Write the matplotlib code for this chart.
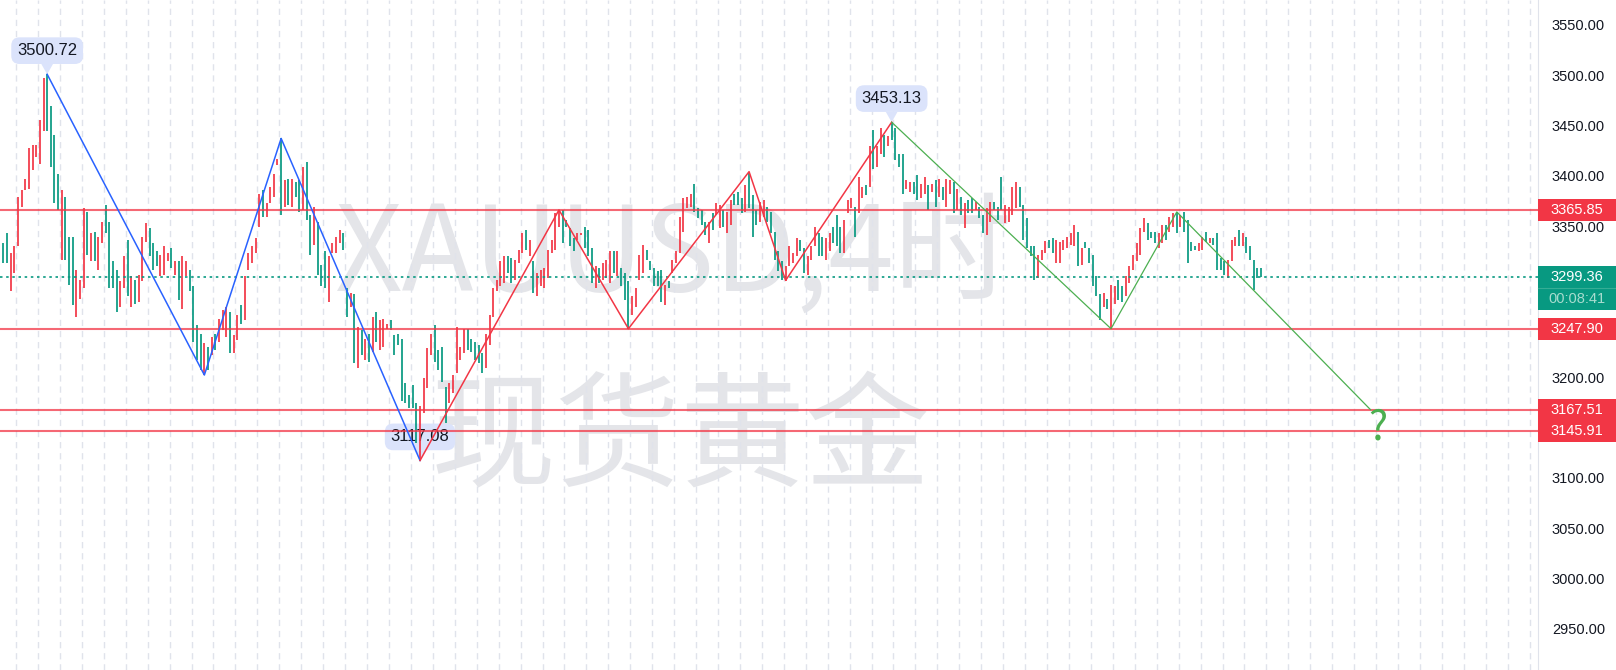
import numpy as np
import matplotlib
matplotlib.use('Agg')
import matplotlib.pyplot as plt
import matplotlib.transforms as mtransforms
from matplotlib.patches import Rectangle

plt.rcParams['font.family'] = ['Liberation Sans', 'Noto Sans CJK SC', 'DejaVu Sans']

# 4小时K线 (红涨绿跌)
bar_open = [
    3333, 3343, 3285, 3303, 3330, 3369, 3386, 3387, 3406, 3419,
    3412, 3444, 3500.72, 3469, 3440, 3402, 3316, 3379, 3339, 3339,
    3260, 3278, 3288, 3364, 3315, 3344, 3306, 3333, 3371, 3354,
    3315, 3306, 3270, 3288, 3336, 3270, 3296, 3275, 3295, 3334,
    3348, 3333, 3325, 3300, 3301, 3315, 3328, 3301, 3315, 3268,
    3300, 3306, 3290, 3252, 3243, 3202, 3230, 3222, 3243, 3235,
    3247, 3240, 3265, 3224, 3237, 3272, 3257, 3306, 3313, 3323,
    3349, 3386, 3359, 3373, 3379, 3411, 3437, 3369, 3397, 3369,
    3394, 3396, 3366, 3414, 3361, 3331, 3354, 3311, 3325, 3275,
    3323, 3323, 3333, 3343, 3288, 3270, 3282, 3209, 3247, 3217,
    3243, 3225, 3265, 3227, 3230, 3248, 3257, 3242, 3243, 3238,
    3194, 3182, 3192, 3174, 3117.08, 3164, 3189, 3222, 3252, 3227,
    3230, 3190, 3174, 3184, 3204, 3217, 3224, 3248, 3238, 3235,
    3232, 3224, 3209, 3232, 3260, 3285, 3290, 3293, 3320, 3318,
    3296, 3313, 3323, 3346, 3320, 3315, 3280, 3290, 3288, 3298,
    3323, 3326, 3349, 3366, 3356, 3348, 3338, 3336, 3341, 3349,
    3346, 3328, 3288, 3308, 3296, 3298, 3293, 3325, 3300, 3308,
    3303, 3295, 3262, 3270, 3296, 3303, 3326, 3315, 3308, 3305,
    3306, 3272, 3295, 3303, 3313, 3323, 3344, 3368, 3369, 3392,
    3368, 3366, 3354, 3333, 3363, 3361, 3348, 3366, 3343, 3351,
    3382, 3384, 3378, 3364, 3404, 3381, 3366, 3354, 3359, 3369,
    3364, 3344, 3325, 3315, 3295, 3310, 3313, 3320, 3336, 3328,
    3301, 3316, 3330, 3343, 3339, 3316, 3325, 3349, 3361, 3349,
    3323, 3363, 3368, 3369, 3363, 3378, 3391, 3389, 3445, 3409,
    3422, 3440, 3429, 3453.13, 3447, 3422, 3422, 3387, 3384, 3394,
    3401, 3378, 3382, 3391, 3384, 3396, 3379, 3389, 3369, 3382,
    3394, 3366, 3379, 3348, 3376, 3378, 3366, 3369, 3361, 3341,
    3354, 3374, 3369, 3399, 3353, 3354, 3361, 3368, 3389, 3371,
    3358, 3330, 3330, 3298, 3316, 3323, 3336, 3338, 3313, 3313,
    3326, 3328, 3331, 3330, 3344, 3311, 3334, 3328, 3321, 3300,
    3282, 3270, 3278, 3248, 3273, 3296, 3290, 3280, 3293, 3306,
    3315, 3321, 3344, 3353, 3344, 3344, 3328, 3333, 3351, 3344,
    3349, 3364, 3349, 3364, 3356, 3334, 3330, 3325, 3326, 3344,
    3333, 3338, 3343, 3318, 3315, 3298, 3315, 3330, 3346, 3330,
    3339, 3330, 3316, 3308, 3308,
]
bar_close = [
    3313, 3313, 3323, 3330, 3379, 3386, 3397, 3427, 3430, 3430,
    3455, 3497, 3444, 3409, 3373, 3366, 3386, 3316, 3291, 3272,
    3306, 3296, 3368, 3321, 3343, 3315, 3339, 3354, 3343, 3288,
    3288, 3265, 3295, 3320, 3280, 3300, 3273, 3301, 3339, 3353,
    3320, 3306, 3310, 3321, 3330, 3323, 3308, 3315, 3277, 3320,
    3315, 3285, 3235, 3217, 3207, 3234, 3207, 3240, 3227, 3258,
    3267, 3270, 3224, 3242, 3262, 3253, 3300, 3323, 3330, 3338,
    3382, 3359, 3373, 3389, 3402, 3417, 3361, 3396, 3371, 3397,
    3379, 3364, 3409, 3356, 3321, 3369, 3301, 3290, 3288, 3320,
    3333, 3339, 3346, 3326, 3260, 3283, 3214, 3250, 3222, 3238,
    3215, 3260, 3235, 3257, 3258, 3253, 3247, 3222, 3232, 3176,
    3174, 3169, 3169, 3134, 3171, 3199, 3229, 3243, 3215, 3207,
    3195, 3154, 3194, 3202, 3250, 3230, 3248, 3227, 3225, 3217,
    3214, 3204, 3243, 3262, 3288, 3296, 3315, 3320, 3303, 3293,
    3316, 3326, 3343, 3326, 3336, 3283, 3303, 3306, 3308, 3326,
    3336, 3363, 3366, 3333, 3349, 3330, 3325, 3343, 3343, 3328,
    3320, 3293, 3310, 3293, 3313, 3316, 3325, 3303, 3325, 3290,
    3277, 3248, 3280, 3288, 3321, 3331, 3316, 3306, 3290, 3290,
    3275, 3291, 3288, 3316, 3325, 3359, 3378, 3379, 3382, 3364,
    3358, 3351, 3341, 3354, 3346, 3373, 3371, 3349, 3364, 3376,
    3371, 3371, 3363, 3391, 3368, 3339, 3351, 3374, 3376, 3354,
    3343, 3316, 3305, 3296, 3310, 3330, 3323, 3338, 3325, 3303,
    3320, 3330, 3349, 3320, 3320, 3338, 3343, 3333, 3330, 3323,
    3356, 3376, 3378, 3339, 3399, 3389, 3381, 3429, 3407, 3429,
    3447, 3419, 3439, 3435, 3416, 3409, 3382, 3396, 3394, 3382,
    3376, 3392, 3399, 3366, 3392, 3369, 3397, 3376, 3397, 3396,
    3363, 3387, 3361, 3373, 3363, 3363, 3374, 3358, 3343, 3368,
    3374, 3366, 3356, 3366, 3371, 3369, 3389, 3394, 3369, 3336,
    3328, 3320, 3296, 3321, 3326, 3335, 3328, 3323, 3336, 3334,
    3336, 3339, 3343, 3351, 3310, 3328, 3328, 3313, 3290, 3280,
    3257, 3283, 3268, 3291, 3290, 3277, 3275, 3300, 3310, 3321,
    3333, 3348, 3358, 3336, 3338, 3333, 3343, 3351, 3336, 3359,
    3363, 3343, 3361, 3344, 3313, 3325, 3326, 3333, 3339, 3334,
    3338, 3331, 3306, 3306, 3301, 3316, 3336, 3339, 3330, 3343,
    3323, 3316, 3286, 3298, 3299.36,
]

# 波段折线 (K线序号, 价格)
blue_idx = [12, 55, 76, 114]
blue_px = [3500.72, 3202, 3437, 3117.08]
red_idx = [114, 152, 171, 204, 214, 243]
red_px = [3117.08, 3366, 3248, 3404, 3296, 3453.13]
green_idx = [243, 303, 321, 374]
green_px = [3453.13, 3248, 3364, 3167.51]

levels = [3365.85, 3247.90, 3167.51, 3145.91]
last_price = 3299.36
countdown = '00:08:41'
pivot_idx = [12, 243, 114]
pivot_px = [3500.72, 3453.13, 3117.08]
yticks = [2950, 3000, 3050, 3100, 3200, 3350, 3400, 3450, 3500, 3550]

UP = '#f23645'
DOWN = '#089981'
TXT = '#131722'

fig = plt.figure(figsize=(16.16, 6.70), dpi=100)
ax = fig.add_axes([0, 0, 1538 / 1616, 1])
ax.set_xlim(-0.9, 419.8)
ax.set_ylim(2909.0, 3574.5)

# 水印
wm = '#e4e5e9'
ax.text(0.438, 0.566, 'XAUUSD,4时', transform=ax.transAxes, ha='center', va='baseline',
        fontsize=85, color=wm, family=['Noto Sans CJK SC'], zorder=0)
ax.text(0.4425, 0.288, '现货黄金', transform=ax.transAxes, ha='center', va='baseline',
        fontsize=90, color=wm, family=['Noto Sans CJK SC'], zorder=0)

# 竖向虚线网格
for gx in np.arange(3.5, 420, 6):
    ax.axvline(gx, color='#e0e3eb', lw=1, ls=(0, (4.5, 3.5)), zorder=0.5)

# K线
o = np.array(bar_open, dtype=float)
c = np.array(bar_close, dtype=float)
x = np.arange(len(o))
cols = np.where(c >= o, UP, DOWN)
ax.vlines(x, np.minimum(o, c), np.maximum(o, c), colors=cols, lw=1.25, zorder=2)

# 水平位 & 现价线
for lv in levels:
    ax.axhline(lv, color=UP, lw=1.5, alpha=0.75, zorder=3)
ax.axhline(last_price, color=DOWN, lw=1.2, ls=(0, (1.5, 2.2)), zorder=3)

# 高低点标签
bub = '#dbe3fb'
for i, p in zip(pivot_idx, pivot_px):
    ax.annotate(f'{p:.2f}', xy=(i, p), xytext=(0, 17), textcoords='offset points',
                ha='center', va='center', fontsize=12, color=TXT, zorder=1.5,
                bbox=dict(boxstyle='round,pad=0.35,rounding_size=0.5', fc=bub, ec='none'),
                arrowprops=dict(arrowstyle='wedge,tail_width=0.7,shrink_factor=0.5',
                                fc=bub, ec='none', shrinkA=0, shrinkB=0))

# 波段折线
ax.plot(blue_idx, blue_px, color='#2962ff', lw=1.1, zorder=4)
ax.plot(red_idx, red_px, color=UP, lw=1.1, zorder=4)
ax.plot(green_idx, green_px, color='#4caf50', lw=0.9, zorder=4)
ax.annotate('?', xy=(green_idx[-1], green_px[-1]), xytext=(5, -13), textcoords='offset points',
            ha='center', va='center', fontsize=29, color='#4caf50', family=['Noto Sans CJK SC'])

# 右侧价格轴
ax.yaxis.tick_right()
ax.set_yticks(yticks)
ax.set_yticklabels([f'{v:.2f}' for v in yticks])
ax.tick_params(axis='y', length=0, pad=10, labelsize=10.5, labelcolor=TXT)
ax.tick_params(axis='x', bottom=False, labelbottom=False)
for s in ['top', 'left', 'bottom']:
    ax.spines[s].set_visible(False)
ax.spines['right'].set_color('#e0e3eb')

trans = mtransforms.blended_transform_factory(ax.transAxes, ax.transData)
tag_w = 78 / 1538
half = 11 / 1.0067


def tag(y, text, fc, tc='white'):
    ax.add_patch(Rectangle((1.0, y - half), tag_w, 2 * half, transform=trans, fc=fc, ec='none',
                           clip_on=False, zorder=10))
    ax.text(1 + tag_w / 2, y, text, transform=trans, ha='center', va='center', color=tc,
            fontsize=10.5, clip_on=False, zorder=11)


for lv in levels:
    tag(lv, f'{lv:.2f}', UP)
tag(last_price, f'{last_price:.2f}', DOWN)
tag(last_price - 2 * half, countdown, DOWN, tc='#a8dccf')
ax.plot([1, 1 + tag_w], [last_price - half] * 2, transform=trans, color='#35ad95', lw=0.8,
        clip_on=False, zorder=12)

fig.savefig('out.png', dpi=100)
